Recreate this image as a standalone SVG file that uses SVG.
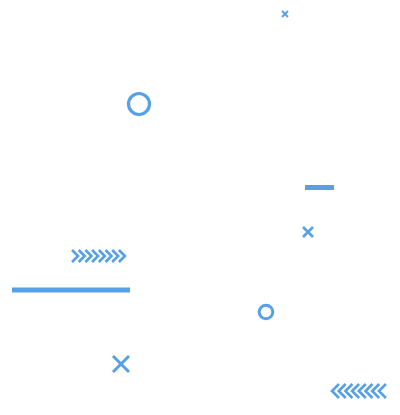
<svg xmlns="http://www.w3.org/2000/svg" width="400" height="415" viewBox="0 0 400 415">
<style>
.s{fill:none;stroke:#55a0e6;}
.f{fill:#55a0e6;}
</style>
<defs>
<polyline id="cr" points="0,-6 6,0 0,6" class="s" stroke-width="2.6"/>
<polyline id="cl" points="7,-7 0,0 7,7" class="s" stroke-width="2.6"/>
</defs>
<rect width="400" height="415" fill="#ffffff"/>
<path class="s" stroke-width="1.8" d="M282,11 L288,17 M288,11 L282,17"/>
<circle class="s" stroke-width="3.2" cx="139" cy="104" r="10.5"/>
<rect class="f" x="305" y="185" width="29" height="5"/>
<path class="s" stroke-width="2.6" d="M303,227 L313,237 M313,227 L303,237"/>
<g transform="translate(72,256)">
<use href="#cr" x="0"/><use href="#cr" x="6.7"/><use href="#cr" x="13.4"/><use href="#cr" x="20.1"/><use href="#cr" x="26.8"/><use href="#cr" x="33.5"/><use href="#cr" x="40.2"/><use href="#cr" x="46.9"/>
</g>
<rect class="f" x="12" y="287.5" width="118" height="5"/>
<circle class="s" stroke-width="3" cx="266" cy="312" r="6.8"/>
<path class="s" stroke-width="3" d="M113,356 L129,372 M129,356 L113,372"/>
<g transform="translate(332,391)">
<use href="#cl" x="0"/><use href="#cl" x="6.7"/><use href="#cl" x="13.4"/><use href="#cl" x="20.1"/><use href="#cl" x="26.8"/><use href="#cl" x="33.5"/><use href="#cl" x="40.2"/><use href="#cl" x="46.9"/>
</g>
</svg>
